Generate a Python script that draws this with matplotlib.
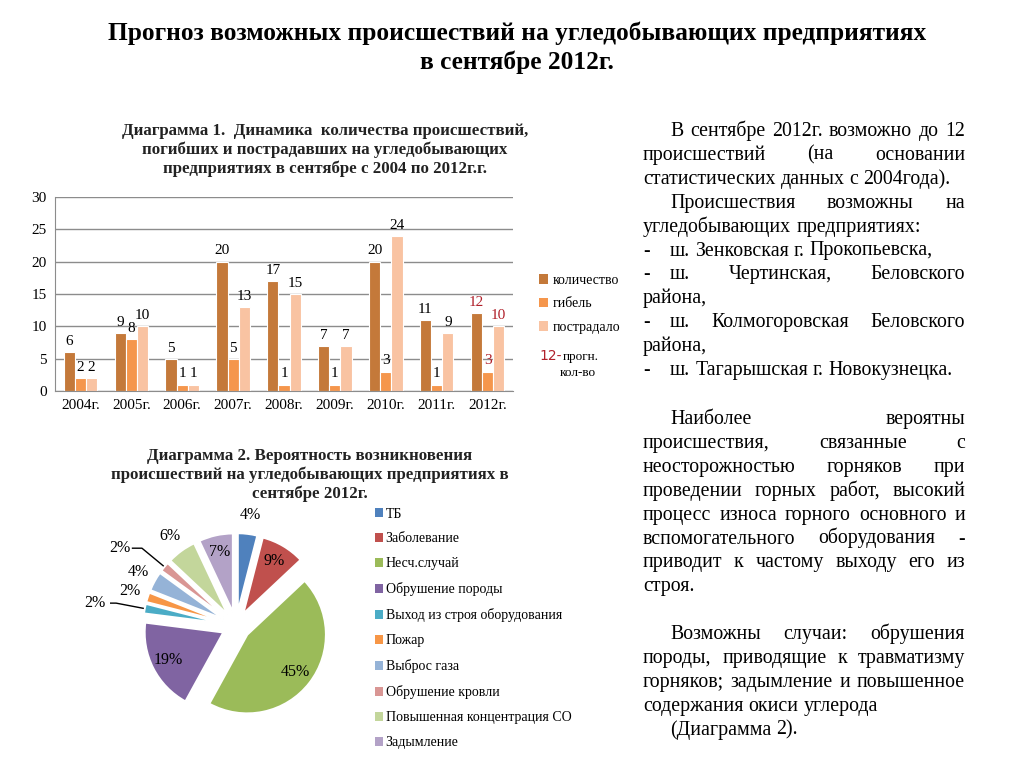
import numpy as np
import matplotlib.pyplot as plt
from matplotlib.patches import Patch

plt.rcParams['font.family'] = ['Liberation Serif', 'DejaVu Serif']

W, H = 1024, 768

# ---------------------------------------------------------------- data
years = ['2004г.', '2005г.', '2006г.', '2007г.', '2008г.', '2009г.', '2010г.', '2011г.', '2012г.']
kolichestvo = [6, 9, 5, 20, 17, 7, 20, 11, 12]
gibel = [2, 8, 1, 5, 1, 1, 3, 1, 3]
postradalo = [2, 10, 1, 13, 15, 7, 24, 9, 10]
forecast_year = '2012г.'

causes = ['ТБ', 'Заболевание', 'Несч.случай', 'Обрушение породы',
          'Выход из строя оборудования', 'Пожар', 'Выброс газа',
          'Обрушение кровли', 'Повышенная концентрация СО', 'Задымление']
shares = [4, 9, 45, 19, 2, 2, 4, 2, 6, 7]

col_count = '#C4793A'
col_death = '#F5964C'
col_hurt = '#F9C3A2'
red = '#B0202A'
pie_colors = ['#4F81BD', '#C0504D', '#9BBB59', '#8064A2', '#4BACC6',
              '#F79646', '#95B3D7', '#D99694', '#C3D69B', '#B3A2C7']

# right hand text: (text, indent, justified)
para1 = [
    ('В сентябре 2012г. возможно до 12', 'indent', True),
    ('происшествий (на основании', '', True),
    ('статистических данных с 2004года).', '', False),
    ('Происшествия возможны на', 'indent', True),
    ('угледобывающих предприятиях:', '', False),
    ('ш. Зенковская г. Прокопьевска,', 'dash', False),
    ('ш. Чертинская, Беловского', 'dash', True),
    ('района,', '', False),
    ('ш. Колмогоровская Беловского', 'dash', True),
    ('района,', '', False),
    ('ш. Тагарышская г. Новокузнецка.', 'dash', False),
]
para2 = [
    ('Наиболее вероятны', 'indent', True),
    ('происшествия, связанные с', '', True),
    ('неосторожностью горняков при', '', True),
    ('проведении горных работ, высокий', '', True),
    ('процесс износа горного основного и', '', True),
    ('вспомогательного оборудования -', '', True),
    ('приводит к частому выходу его из', '', True),
    ('строя.', '', False),
]
para3 = [
    ('Возможны случаи: обрушения', 'indent', True),
    ('породы, приводящие к травматизму', '', True),
    ('горняков; задымление и повышенное', '', True),
    ('содержания окиси углерода', '', False),
    ('(Диаграмма 2).', 'indent', False),
]


def fx(px):
    return px / W


def fy(py):
    return 1 - py / H


fig = plt.figure(figsize=(W / 100, H / 100), dpi=100)
fig.patch.set_facecolor('white')

# ---------------------------------------------------------------- main title
fig.text(fx(517), fy(33), 'Прогноз возможных происшествий на угледобывающих предприятиях',
         ha='center', va='center', fontsize=18.3, fontweight='bold')
fig.text(fx(517), fy(62), 'в сентябре 2012г.',
         ha='center', va='center', fontsize=18.3, fontweight='bold')

# ---------------------------------------------------------------- bar chart
fig.text(fx(325), fy(150),
         'Диаграмма 1.  Динамика  количества происшествий,\n'
         'погибших и пострадавших на угледобывающих\n'
         'предприятиях в сентябре с 2004 по 2012г.г.',
         ha='center', va='center', fontsize=12.2, fontweight='bold',
         linespacing=1.2, color='#222222')

ax = fig.add_axes([fx(55), fy(391), fx(513) - fx(55), (391 - 197) / H])
x = np.arange(len(years))
w = 0.22
series = [(kolichestvo, col_count, 'количество', -w),
          (gibel, col_death, 'гибель', 0),
          (postradalo, col_hurt, 'пострадало', w)]
handles = []
for vals, col, lab, off in series:
    ax.bar(x + off, vals, w, color=col, edgecolor='white', linewidth=0.8, label=lab)
    handles.append(Patch(facecolor=col, label=lab))
    for xi, v, yr in zip(x, vals, years):
        ax.annotate(str(v), (xi + off, v), xytext=(0, 3), textcoords='offset points',
                    ha='center', va='bottom', fontsize=11,
                    color=red if yr == forecast_year else 'black')

ax.set_xlim(-0.5, len(years) - 0.5)
ax.set_ylim(0, 30)
ax.set_yticks(range(0, 31, 5))
ax.set_xticks(x)
ax.set_xticklabels(years)
ax.grid(axis='y', color='#8c8c8c', linewidth=1)
ax.set_axisbelow(True)
for s in ['top', 'right']:
    ax.spines[s].set_visible(False)
ax.spines['left'].set_color('#8c8c8c')
ax.spines['bottom'].set_color('#8c8c8c')
ax.tick_params(length=0, labelsize=11, pad=6)

fig.legend(handles=handles, loc='upper left', bbox_to_anchor=(fx(533), fy(268)),
           frameon=False, fontsize=10, handlelength=0.7, handleheight=0.7,
           handletextpad=0.3, labelspacing=0.78, borderaxespad=0)
fig.text(fx(539), fy(356), '12-', color=red, fontsize=10, family='DejaVu Sans',
         ha='left', va='center')
fig.text(fx(563), fy(357), 'прогн.', fontsize=9.5, ha='left', va='center')
fig.text(fx(560), fy(373), 'кол-во', fontsize=9.5, ha='left', va='center')

# ---------------------------------------------------------------- pie chart
fig.text(fx(310), fy(475),
         'Диаграмма 2. Вероятность возникновения\n'
         'происшествий на угледобывающих предприятиях в\n'
         'сентябре 2012г.',
         ha='center', va='center', fontsize=12.2, fontweight='bold',
         linespacing=1.2, color='#222222')

pax = fig.add_axes([fx(110), fy(752), 252 / W, 252 / H])
explode = [0.18] * len(shares)
wedges, _ = pax.pie(shares, colors=pie_colors, startangle=90, counterclock=False,
                    explode=explode, radius=1.0,
                    wedgeprops=dict(edgecolor='white', linewidth=1.5))
pax.set_xlim(-1.6, 1.6)
pax.set_ylim(-1.6, 1.6)
pax.set_aspect('auto')

leader = ['Выход из строя оборудования', 'Обрушение кровли']
for wdg, sh, cause in zip(wedges, shares, causes):
    ang = np.deg2rad((wdg.theta1 + wdg.theta2) / 2)
    c, s = np.cos(ang), np.sin(ang)
    if sh >= 7:
        r = 0.18 + 0.78
        pax.text(r * c, r * s, f'{sh}%', ha='center', va='center', fontsize=11.5)
    elif cause in leader:
        r0, r1 = 1.2, 1.55
        pax.plot([r0 * c, r1 * c, r1 * c - 0.12], [r0 * s, r1 * s, r1 * s],
                 color='black', lw=1)
        pax.text(r1 * c - 0.14, r1 * s, f'{sh}%', ha='right', va='center', fontsize=11.5)
    else:
        r = 1.42
        pax.text(r * c, r * s, f'{sh}%', ha='center', va='center', fontsize=11.5)

pie_handles = [Patch(facecolor=col, label=lab) for col, lab in zip(pie_colors, causes)]
fig.legend(handles=pie_handles, loc='upper left', bbox_to_anchor=(fx(369), fy(502)),
           frameon=False, fontsize=10, handlelength=0.6, handleheight=0.6,
           handletextpad=0.2, labelspacing=0.86, borderaxespad=0)

# ---------------------------------------------------------------- right text
renderer = fig.canvas.get_renderer()
TXT = dict(fontsize=14.3, ha='left', va='baseline')
x_left, x_right, x_ind = 643, 965, 670
probe_a = fig.text(0, 0, 'н н', **TXT)
probe_b = fig.text(0, 0, 'нн', **TXT)
space = probe_a.get_window_extent(renderer).width - probe_b.get_window_extent(renderer).width
probe_a.remove()
probe_b.remove()


def put_line(line, kind, justify, y):
    x0 = x_left
    if kind == 'indent':
        x0 = x_ind
    elif kind == 'dash':
        fig.text(fx(x_left), fy(y), '-', **TXT)
        x0 = x_ind
    words = line.split()
    texts = [fig.text(fx(x0), fy(y), wd, **TXT) for wd in words]
    widths = [t.get_window_extent(renderer).width for t in texts]
    gap = space
    if justify and len(words) > 1:
        gap = (x_right - x0 - sum(widths)) / (len(words) - 1)
    xx = x0
    for t, wd in zip(texts, widths):
        t.set_x(fx(xx))
        xx += wd + gap


for para, y0 in [(para1, 136), (para2, 424), (para3, 639)]:
    for i, (line, kind, just) in enumerate(para):
        put_line(line, kind, just, y0 + i * 23.9)

fig.savefig('out.png', dpi=100)
